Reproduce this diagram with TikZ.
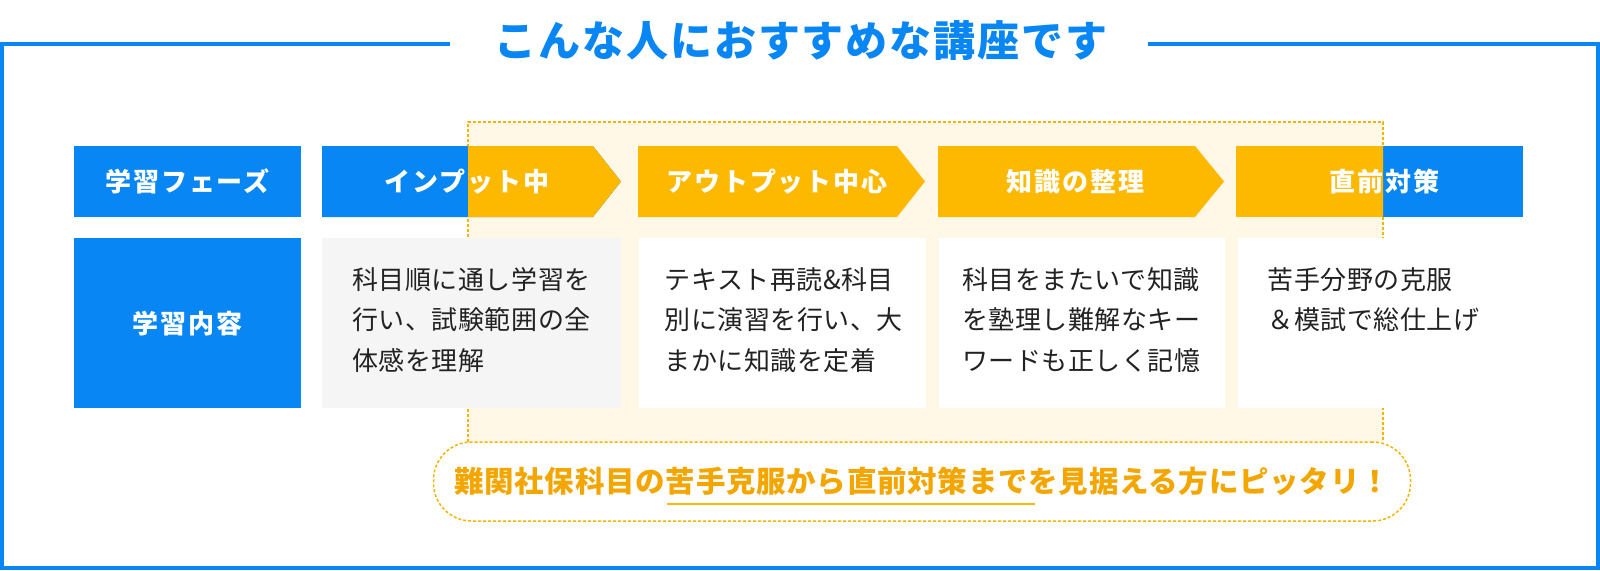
\documentclass[tikz,border=0pt]{standalone}
\usepackage{fontspec}
\setmainfont{Noto Sans CJK JP}
\usepackage{xcolor}
\usepackage{tikz}
\usetikzlibrary{positioning}

\definecolor{mainblue}{RGB}{8,134,244}
\definecolor{mainyellow}{RGB}{253,185,0}
\definecolor{cream}{RGB}{255,248,230}
\definecolor{dotline}{RGB}{245,180,0}
\definecolor{catchtext}{RGB}{244,166,0}
\definecolor{boxgray}{RGB}{245,245,245}
\definecolor{bodytext}{RGB}{34,34,34}

\begin{document}
\begin{tikzpicture}[x=1pt, y=-1pt,
    head/.style={fill=mainblue, text=white, font=\bfseries\fontsize{26}{30}\selectfont\addfontfeatures{LetterSpace=7}, minimum width=227pt, inner sep=0pt},
    phase/.style={text=white, font=\bfseries\fontsize{26}{30}\selectfont\addfontfeatures{LetterSpace=7}, inner sep=0pt},
    cbox/.style={minimum height=170pt, inner sep=0pt},
    body/.style={anchor=north west, align=left, inner sep=0pt, text=bodytext, font=\fontsize{26}{40.5}\selectfont\addfontfeatures{LetterSpace=2}},
    hiline/.style={draw=dotline, line width=1.5pt, dash pattern=on 3pt off 2pt}]

    \useasboundingbox (0,0) rectangle (1600,570);

    \node[text=mainblue, font=\bfseries\fontsize{42}{46}\selectfont\addfontfeatures{LetterSpace=4.5}, inner sep=0pt] (title) at (801,41) {こんな人におすすめな講座です};
    \draw[mainblue, line width=3.5pt] (450,44) -- (2,44) -- (2,568) -- (1598,568) -- (1598,44) -- (1148,44);

    \fill[cream] (468,122) rectangle (1383,442);
    \draw[hiline] (468,442) -- (468,122) -- (1383,122) -- (1383,442);

    \fill[mainblue] (322,146) -- (593,146) -- (621,181.5) -- (593,217) -- (322,217) -- cycle;
    \fill[mainblue] (1236,146) rectangle (1523,217);
    \begin{scope}
        \clip (468,0) rectangle (1383,570);
        \fill[mainyellow] (322,146) -- (593,146) -- (621,181.5) -- (593,217) -- (322,217) -- cycle;
        \fill[mainyellow] (638,146) -- (897,146) -- (925,181.5) -- (897,217) -- (638,217) -- cycle;
        \fill[mainyellow] (938,146) -- (1195,146) -- (1224,181.5) -- (1195,217) -- (938,217) -- cycle;
        \fill[mainyellow] (1236,146) rectangle (1523,217);
    \end{scope}

    \node[head, minimum height=71pt] (phasehead) at (187.5,181.5) {学習フェーズ};
    \node[head, minimum height=170pt, below=21pt of phasehead] (contenthead) {学習内容};

    \node[phase] (phase1) at (467,181.5) {インプット中};
    \node[phase] (phase2) at (777,181.5) {アウトプット中心};
    \node[phase] (phase3) at (1075.5,181.5) {知識の整理};
    \node[phase] (phase4) at (1384.5,181.5) {直前対策};

    \node[cbox, fill=boxgray, minimum width=299pt, right=21pt of contenthead] (box1) {};
    \node[cbox, fill=white, minimum width=287pt, right=17pt of box1] (box2) {};
    \node[cbox, fill=white, minimum width=286pt, right=13pt of box2] (box3) {};
    \node[cbox, fill=white, minimum width=287pt, right=12pt of box3] (box4) {};

    \node[body] (text1) at ([xshift=30pt, yshift=-29pt]box1.north west) {科目順に通し学習を\\行い、試験範囲の全\\体感を理解};
    \node[body] (text2) at ([xshift=26pt, yshift=-29pt]box2.north west) {テキスト再読\&科目\\別に演習を行い、大\\まかに知識を定着};
    \node[body] (text3) at ([xshift=23pt, yshift=-29pt]box3.north west) {科目をまたいで知識\\を塾理し難解なキー\\ワードも正しく記憶};
    \node[body] (text4) at ([xshift=30pt, yshift=-29pt]box4.north west) {苦手分野の克服\\＆模試で総仕上げ};

    \node[hiline, fill=white, rounded corners=38pt, minimum width=977pt, minimum height=79pt, inner sep=0pt, text=catchtext, font=\bfseries\fontsize{29.5}{32}\selectfont\addfontfeatures{LetterSpace=2.5}] (catch) at (922,481.5) {難関社保科目の苦手克服から直前対策までを見据える方にピッタリ！};
    \draw[mainyellow, line width=2pt] ([shift={(-255,22.5)}]catch.center) -- ([shift={(113,22.5)}]catch.center);

\end{tikzpicture}
\end{document}
